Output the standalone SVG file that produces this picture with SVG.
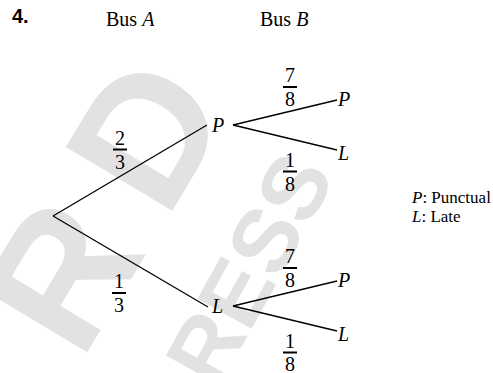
<svg xmlns="http://www.w3.org/2000/svg" width="493" height="373" viewBox="0 0 493 373">
<style>
.t{font-family:"Liberation Serif","Times New Roman",serif;font-size:20px;fill:#000}
.i{font-style:italic}
.fr{font-family:"Liberation Serif","Times New Roman",serif;font-size:20px;text-anchor:middle;fill:#000}
.bar{stroke:#000;stroke-width:2}
.edge{stroke:#000;stroke-width:1.3;fill:none}
.wm{font-family:"Liberation Sans",Arial,sans-serif;font-weight:bold;fill:#e2e2e2}
.leg{font-size:17px}
</style>
<rect width="493" height="373" fill="#fff"/>
<g id="watermark">
  <text class="wm" font-size="180" transform="translate(166,221) rotate(-59)" x="-165 0" y="0">RD</text>
  <text class="wm" font-size="90" transform="translate(307,229) rotate(-61)" x="-185" y="0">RESS</text>
</g>
<g id="headers">
  <text x="12" y="23" style="font-family:'Liberation Sans',Arial,sans-serif;font-weight:bold;font-size:20px">4.</text>
  <text class="t" x="106" y="26">Bus <tspan class="i">A</tspan></text>
  <text class="t" x="260" y="26">Bus <tspan class="i">B</tspan></text>
</g>
<g id="connectors">
  <line class="edge" x1="53" y1="216" x2="207" y2="125"/>
  <line class="edge" x1="53" y1="216" x2="208" y2="307"/>
  <line class="edge" x1="233" y1="125" x2="337" y2="100"/>
  <line class="edge" x1="233" y1="125" x2="337" y2="150"/>
  <line class="edge" x1="233" y1="306" x2="337" y2="281"/>
  <line class="edge" x1="233" y1="306" x2="337" y2="331"/>
</g>
<g id="node-A-P"><text class="t i" x="212" y="132">P</text></g>
<g id="node-A-L"><text class="t i" x="212" y="313">L</text></g>
<g id="node-PP"><text class="t i" x="338" y="106">P</text></g>
<g id="node-PL"><text class="t i" x="338" y="160">L</text></g>
<g id="node-LP"><text class="t i" x="338" y="287">P</text></g>
<g id="node-LL"><text class="t i" x="338" y="341">L</text></g>
<g id="prob-2-3">
  <text class="fr" x="120" y="144.5">2</text><line class="bar" x1="113" y1="149.5" x2="127" y2="149.5"/><text class="fr" x="120" y="168.5">3</text>
</g>
<g id="prob-1-3">
  <text class="fr" x="119" y="288">1</text><line class="bar" x1="112" y1="293" x2="126" y2="293"/><text class="fr" x="119" y="312">3</text>
</g>
<g id="prob-PP">
  <text class="fr" x="290" y="82">7</text><line class="bar" x1="283" y1="87" x2="297" y2="87"/><text class="fr" x="290" y="106">8</text>
</g>
<g id="prob-PL">
  <text class="fr" x="290" y="166.5">1</text><line class="bar" x1="283" y1="171.5" x2="297" y2="171.5"/><text class="fr" x="290" y="190.5">8</text>
</g>
<g id="prob-LP">
  <text class="fr" x="290" y="263">7</text><line class="bar" x1="283" y1="268" x2="297" y2="268"/><text class="fr" x="290" y="287">8</text>
</g>
<g id="prob-LL">
  <text class="fr" x="290" y="347.5">1</text><line class="bar" x1="283" y1="352.5" x2="297" y2="352.5"/><text class="fr" x="290" y="370.5">8</text>
</g>
<g id="legend">
  <text class="t leg" x="412" y="203"><tspan class="i">P</tspan>: Punctual</text>
  <text class="t leg" x="412" y="222"><tspan class="i">L</tspan>: Late</text>
</g>
</svg>
